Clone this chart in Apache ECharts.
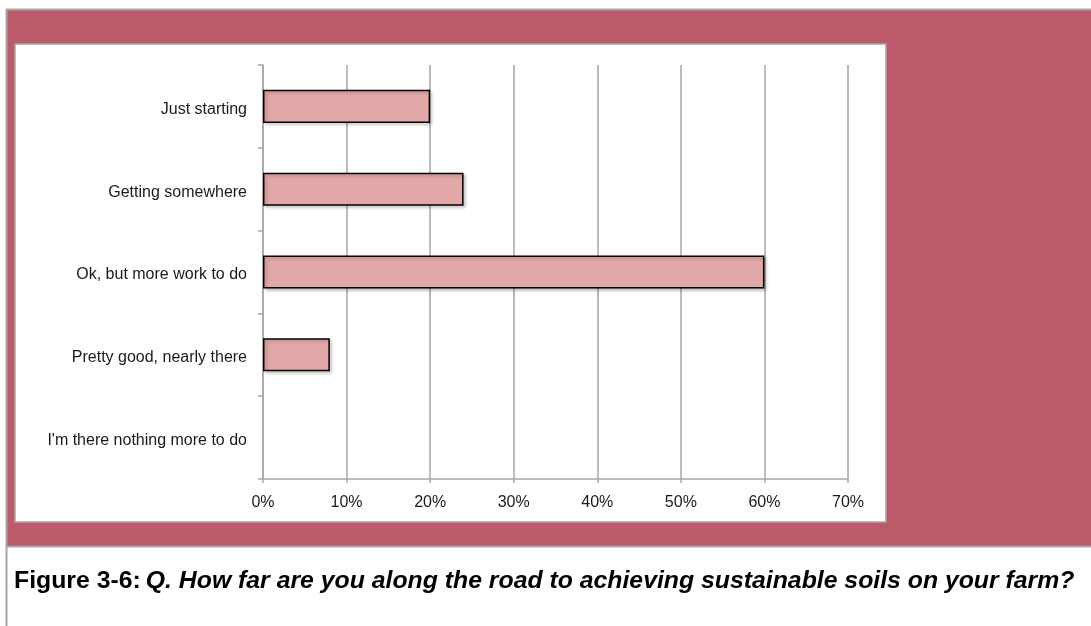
<!DOCTYPE html>
<html>
<head>
<meta charset="utf-8">
<title>Figure 3-6</title>
<script src="https://cdn.jsdelivr.net/npm/echarts@6/dist/echarts.min.js"></script>
<style>
  html, body { margin: 0; padding: 0; background: #ffffff; }
  #chart { width: 1091px; height: 626px; }
</style>
</head>
<body>
<div id="chart"></div>
<script>
// Survey responses: how far along the road to sustainable soils
const categories = [
  'Just starting',
  'Getting somewhere',
  'Ok, but more work to do',
  'Pretty good, nearly there',
  "I'm there nothing more to do"
];
const shares = [0.20, 0.24, 0.60, 0.08, 0];
const axisMax = 0.7;
const axisStep = 0.1;

const captionLead = 'Figure 3-6:';
const captionQuestion = 'Q. How far are you along the road to achieving sustainable soils on your farm?';

const chart = echarts.init(document.getElementById('chart'), null, { renderer: 'canvas' });

const frameColor = '#a6a6a6';
const panelColor = '#bc5a6b';
const font = '"Liberation Sans", Arial, Helvetica, sans-serif';

// empty responses get no outline so nothing is drawn for them
const barData = shares.map(v => v === 0
  ? { value: v, itemStyle: { borderWidth: 0, shadowColor: 'transparent' } }
  : v);

chart.setOption({
  animation: false,
  backgroundColor: '#ffffff',
  graphic: [
    // outer framed coloured band
    { type: 'rect', z: -10, shape: { x: 7, y: 10, width: 1084, height: 536 },
      style: { fill: panelColor } },
    { type: 'line', z: -9, shape: { x1: 6, y1: 9.5, x2: 1091, y2: 9.5 },
      style: { stroke: frameColor, lineWidth: 2 } },
    { type: 'line', z: -9, shape: { x1: 6.5, y1: 9, x2: 6.5, y2: 626 },
      style: { stroke: frameColor, lineWidth: 2 } },
    { type: 'line', z: -9, shape: { x1: 7, y1: 546.5, x2: 1091, y2: 546.5 },
      style: { stroke: frameColor, lineWidth: 2 } },
    // white chart area
    { type: 'rect', z: -8, shape: { x: 15, y: 44, width: 871, height: 478 },
      style: { fill: '#ffffff', stroke: frameColor, lineWidth: 1.5 } }
  ],
  title: {
    left: 14,
    top: 569,
    padding: 0,
    text: '{lead|' + captionLead + '} {q|' + captionQuestion + '}',
    textStyle: {
      rich: {
        lead: { fontFamily: font, fontSize: 24.8, fontWeight: 'bold', color: '#000' },
        q: { fontFamily: font, fontSize: 24.8, fontWeight: 'bold', fontStyle: 'italic', color: '#000' }
      }
    }
  },
  grid: { left: 263, right: 243, top: 65, bottom: 147, containLabel: false },
  xAxis: {
    type: 'value',
    min: 0,
    max: axisMax,
    interval: axisStep,
    axisLine: { show: true, lineStyle: { color: frameColor, width: 1.5 } },
    axisTick: { show: true, length: 4, lineStyle: { color: frameColor, width: 1.5 } },
    splitLine: { show: true, lineStyle: { color: frameColor, width: 1.5 } },
    axisLabel: {
      margin: 16,
      fontFamily: font,
      fontSize: 16,
      color: '#1a1a1a',
      formatter: v => Math.round(v * 100) + '%'
    }
  },
  yAxis: {
    type: 'category',
    inverse: true,
    data: categories,
    axisLine: { show: true, lineStyle: { color: frameColor, width: 1.5 } },
    axisTick: { show: true, length: 5, lineStyle: { color: frameColor, width: 1.5 } },
    axisLabel: {
      margin: 16,
      formatter: v => '{t|' + v + '}',
      rich: {
        t: {
          fontFamily: font,
          fontSize: 16,
          color: '#1a1a1a',
          padding: [6, 0, 0, 0]
        }
      }
    }
  },
  series: [{
    type: 'bar',
    data: barData,
    barWidth: '40%',
    itemStyle: {
      color: '#e2a8a7',
      borderColor: '#000000',
      borderWidth: 1.5,
      shadowColor: 'rgba(0,0,0,0.22)',
      shadowBlur: 3,
      shadowOffsetX: 2,
      shadowOffsetY: 2
    }
  }]
});
</script>
</body>
</html>
